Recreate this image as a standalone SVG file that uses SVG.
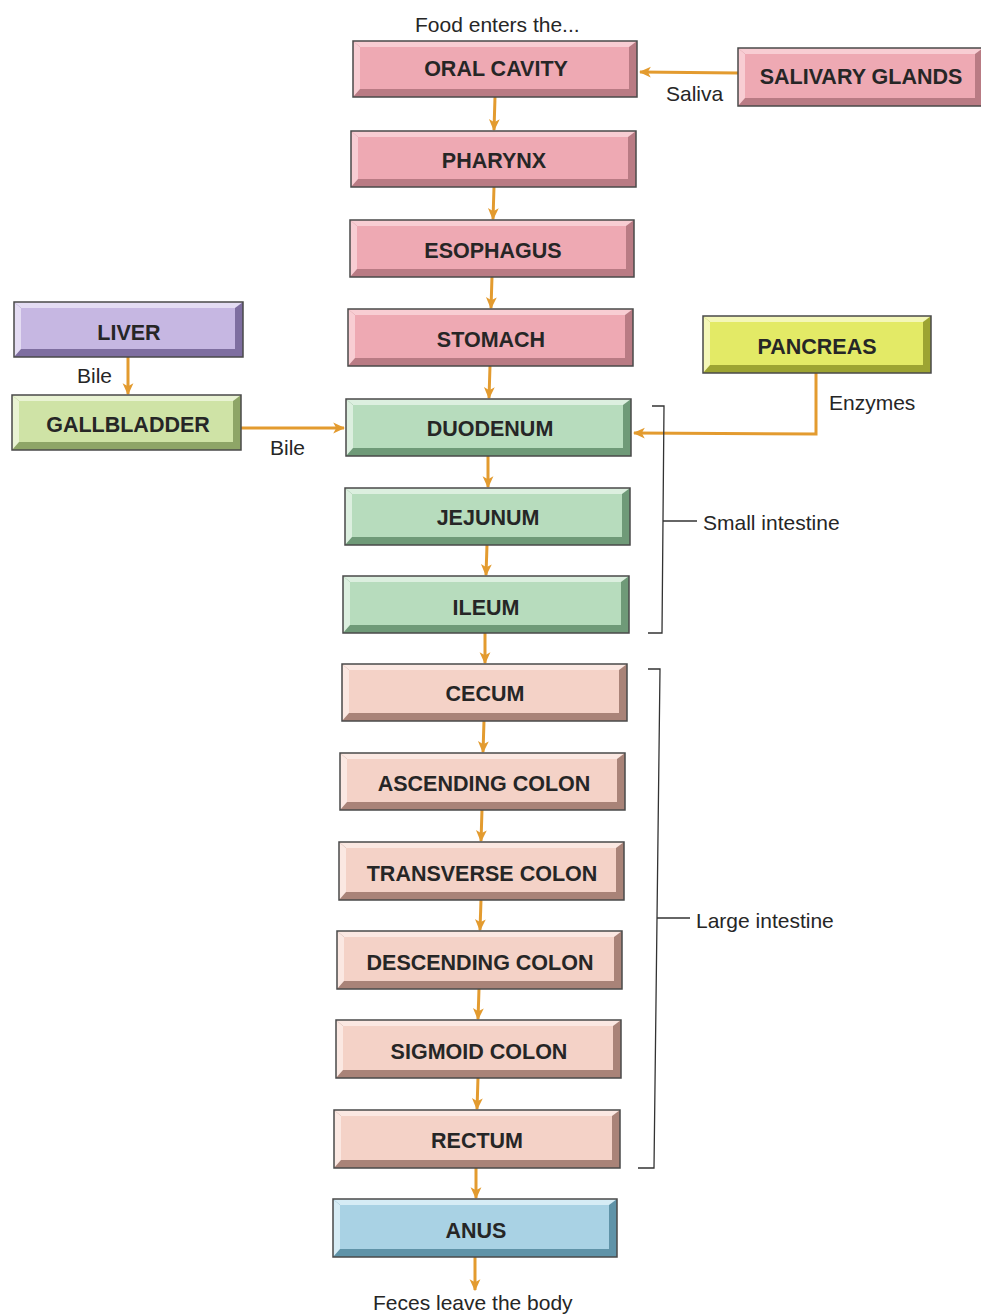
<svg xmlns="http://www.w3.org/2000/svg" width="981" height="1315" viewBox="0 0 981 1315">
<defs>
<marker id="ah" viewBox="0 0 10 10" refX="9" refY="5" markerWidth="12" markerHeight="12" markerUnits="userSpaceOnUse" orient="auto">
<path d="M0,0.5 L10,5 L0,9.5 L2.5,5 Z" fill="#e39b2f"/>
</marker>
</defs>
<style>
.lbl{font-family:"Liberation Sans",Arial,sans-serif;font-weight:bold;font-size:21.5px;fill:#262626;text-anchor:middle}
.txt{font-family:"Liberation Sans",Arial,sans-serif;font-size:21px;fill:#262626}
.ol{fill:none;stroke:#4a4a4a;stroke-width:1.5}
.con{fill:none;stroke:#e39b2f;stroke-width:3}
.arr{marker-end:url(#ah)}
.br{fill:none;stroke:#333;stroke-width:1.3}
.pk .f{fill:#eea9b3}.pk .l{fill:#f8cdd3}.pk .d{fill:#b97b84}
.gr .f{fill:#b7dcbd}.gr .l{fill:#dcefdf}.gr .d{fill:#6f9a78}
.sm .f{fill:#f4d2c7}.sm .l{fill:#fbe8e2}.sm .d{fill:#a98378}
.bl .f{fill:#a9d2e4}.bl .l{fill:#d6ecf5}.bl .d{fill:#5f93a8}
.pu .f{fill:#c6b7e2}.pu .l{fill:#e4dcf3}.pu .d{fill:#7e6ea0}
.yg .f{fill:#cfe3a6}.yg .l{fill:#e9f3d3}.yg .d{fill:#8ea567}
.ye .f{fill:#e3ea66}.ye .l{fill:#f4f7b8}.ye .d{fill:#9da432}
</style>
<rect width="981" height="1315" fill="#fff"/>

<g id="connectors">
<line class="con arr" x1="738" y1="73" x2="640" y2="72"/>
<line class="con arr" x1="495" y1="97" x2="494" y2="130"/>
<line class="con arr" x1="494" y1="187" x2="493" y2="219"/>
<line class="con arr" x1="492" y1="277" x2="491" y2="308"/>
<line class="con arr" x1="490" y1="366" x2="489" y2="398"/>
<line class="con arr" x1="488" y1="456" x2="488" y2="487"/>
<line class="con arr" x1="487" y1="545" x2="486" y2="575"/>
<line class="con arr" x1="485" y1="633" x2="485" y2="663"/>
<line class="con arr" x1="484" y1="721" x2="483" y2="752"/>
<line class="con arr" x1="482" y1="810" x2="481" y2="841"/>
<line class="con arr" x1="481" y1="900" x2="480" y2="930"/>
<line class="con arr" x1="479" y1="989" x2="478" y2="1019"/>
<line class="con arr" x1="478" y1="1078" x2="477" y2="1109"/>
<line class="con arr" x1="476" y1="1168" x2="476" y2="1198"/>
<line class="con arr" x1="475" y1="1257" x2="475" y2="1290"/>
<line class="con arr" x1="128" y1="357" x2="128" y2="394"/>
<line class="con arr" x1="241" y1="428" x2="344" y2="428"/>
<polyline class="con arr" points="816,373 816,434 634,433"/>
</g>

<g id="brackets">
<polyline class="br" points="652,406 664,406 662,633 648,633"/>
<line class="br" x1="663" y1="521" x2="697" y2="521"/>
<polyline class="br" points="648,669 660,669 654,1168 638,1168"/>
<line class="br" x1="657" y1="918" x2="690" y2="918"/>
</g>

<g id="labels">
<text class="txt" x="415" y="32">Food enters the...</text>
<text class="txt" x="666" y="101">Saliva</text>
<text class="txt" x="77" y="383">Bile</text>
<text class="txt" x="270" y="455">Bile</text>
<text class="txt" x="829" y="410">Enzymes</text>
<text class="txt" x="703" y="530">Small intestine</text>
<text class="txt" x="696" y="928">Large intestine</text>
<text class="txt" x="373" y="1310">Feces leave the body</text>
</g>

<g id="oral-cavity" class="pk">
<rect class="d" x="353" y="41" width="284" height="56"/>
<polygon class="l" points="353,41 637,41 629,47 360,47"/>
<polygon class="l" points="353,41 360,47 360,89 353,97"/>
<rect class="f" x="360" y="47" width="269" height="42"/>
<rect class="ol" x="353" y="41" width="284" height="56"/>
<text class="lbl" x="496" y="76">ORAL CAVITY</text>
</g>

<g id="salivary-glands" class="pk">
<rect class="d" x="738" y="48" width="245" height="58"/>
<polygon class="l" points="738,48 983,48 975,54 745,54"/>
<polygon class="l" points="738,48 745,54 745,98 738,106"/>
<rect class="f" x="745" y="54" width="230" height="44"/>
<rect class="ol" x="738" y="48" width="245" height="58"/>
<text class="lbl" x="861" y="84">SALIVARY GLANDS</text>
</g>

<g id="pharynx" class="pk">
<rect class="d" x="351" y="131" width="285" height="56"/>
<polygon class="l" points="351,131 636,131 628,137 358,137"/>
<polygon class="l" points="351,131 358,137 358,179 351,187"/>
<rect class="f" x="358" y="137" width="270" height="42"/>
<rect class="ol" x="351" y="131" width="285" height="56"/>
<text class="lbl" x="494" y="168">PHARYNX</text>
</g>

<g id="esophagus" class="pk">
<rect class="d" x="350" y="220" width="284" height="57"/>
<polygon class="l" points="350,220 634,220 626,226 357,226"/>
<polygon class="l" points="350,220 357,226 357,269 350,277"/>
<rect class="f" x="357" y="226" width="269" height="43"/>
<rect class="ol" x="350" y="220" width="284" height="57"/>
<text class="lbl" x="493" y="258">ESOPHAGUS</text>
</g>

<g id="stomach" class="pk">
<rect class="d" x="348" y="309" width="285" height="57"/>
<polygon class="l" points="348,309 633,309 625,315 355,315"/>
<polygon class="l" points="348,309 355,315 355,358 348,366"/>
<rect class="f" x="355" y="315" width="270" height="43"/>
<rect class="ol" x="348" y="309" width="285" height="57"/>
<text class="lbl" x="491" y="347">STOMACH</text>
</g>

<g id="liver" class="pu">
<rect class="d" x="14" y="302" width="229" height="55"/>
<polygon class="l" points="14,302 243,302 235,308 21,308"/>
<polygon class="l" points="14,302 21,308 21,349 14,357"/>
<rect class="f" x="21" y="308" width="214" height="41"/>
<rect class="ol" x="14" y="302" width="229" height="55"/>
<text class="lbl" x="129" y="340">LIVER</text>
</g>

<g id="pancreas" class="ye">
<rect class="d" x="703" y="316" width="228" height="57"/>
<polygon class="l" points="703,316 931,316 923,322 710,322"/>
<polygon class="l" points="703,316 710,322 710,365 703,373"/>
<rect class="f" x="710" y="322" width="213" height="43"/>
<rect class="ol" x="703" y="316" width="228" height="57"/>
<text class="lbl" x="817" y="354">PANCREAS</text>
</g>

<g id="gallbladder" class="yg">
<rect class="d" x="12" y="395" width="229" height="55"/>
<polygon class="l" points="12,395 241,395 233,401 19,401"/>
<polygon class="l" points="12,395 19,401 19,442 12,450"/>
<rect class="f" x="19" y="401" width="214" height="41"/>
<rect class="ol" x="12" y="395" width="229" height="55"/>
<text class="lbl" x="128" y="432">GALLBLADDER</text>
</g>

<g id="duodenum" class="gr">
<rect class="d" x="346" y="399" width="285" height="57"/>
<polygon class="l" points="346,399 631,399 623,405 353,405"/>
<polygon class="l" points="346,399 353,405 353,448 346,456"/>
<rect class="f" x="353" y="405" width="270" height="43"/>
<rect class="ol" x="346" y="399" width="285" height="57"/>
<text class="lbl" x="490" y="436">DUODENUM</text>
</g>

<g id="jejunum" class="gr">
<rect class="d" x="345" y="488" width="285" height="57"/>
<polygon class="l" points="345,488 630,488 622,494 352,494"/>
<polygon class="l" points="345,488 352,494 352,537 345,545"/>
<rect class="f" x="352" y="494" width="270" height="43"/>
<rect class="ol" x="345" y="488" width="285" height="57"/>
<text class="lbl" x="488" y="525">JEJUNUM</text>
</g>

<g id="ileum" class="gr">
<rect class="d" x="343" y="576" width="286" height="57"/>
<polygon class="l" points="343,576 629,576 621,582 350,582"/>
<polygon class="l" points="343,576 350,582 350,625 343,633"/>
<rect class="f" x="350" y="582" width="271" height="43"/>
<rect class="ol" x="343" y="576" width="286" height="57"/>
<text class="lbl" x="486" y="615">ILEUM</text>
</g>

<g id="cecum" class="sm">
<rect class="d" x="342" y="664" width="285" height="57"/>
<polygon class="l" points="342,664 627,664 619,670 349,670"/>
<polygon class="l" points="342,664 349,670 349,713 342,721"/>
<rect class="f" x="349" y="670" width="270" height="43"/>
<rect class="ol" x="342" y="664" width="285" height="57"/>
<text class="lbl" x="485" y="701">CECUM</text>
</g>

<g id="ascending-colon" class="sm">
<rect class="d" x="340" y="753" width="285" height="57"/>
<polygon class="l" points="340,753 625,753 617,759 347,759"/>
<polygon class="l" points="340,753 347,759 347,802 340,810"/>
<rect class="f" x="347" y="759" width="270" height="43"/>
<rect class="ol" x="340" y="753" width="285" height="57"/>
<text class="lbl" x="484" y="791">ASCENDING COLON</text>
</g>

<g id="transverse-colon" class="sm">
<rect class="d" x="339" y="842" width="285" height="58"/>
<polygon class="l" points="339,842 624,842 616,848 346,848"/>
<polygon class="l" points="339,842 346,848 346,892 339,900"/>
<rect class="f" x="346" y="848" width="270" height="44"/>
<rect class="ol" x="339" y="842" width="285" height="58"/>
<text class="lbl" x="482" y="881">TRANSVERSE COLON</text>
</g>

<g id="descending-colon" class="sm">
<rect class="d" x="337" y="931" width="285" height="58"/>
<polygon class="l" points="337,931 622,931 614,937 344,937"/>
<polygon class="l" points="337,931 344,937 344,981 337,989"/>
<rect class="f" x="344" y="937" width="270" height="44"/>
<rect class="ol" x="337" y="931" width="285" height="58"/>
<text class="lbl" x="480" y="970">DESCENDING COLON</text>
</g>

<g id="sigmoid-colon" class="sm">
<rect class="d" x="336" y="1020" width="285" height="58"/>
<polygon class="l" points="336,1020 621,1020 613,1026 343,1026"/>
<polygon class="l" points="336,1020 343,1026 343,1070 336,1078"/>
<rect class="f" x="343" y="1026" width="270" height="44"/>
<rect class="ol" x="336" y="1020" width="285" height="58"/>
<text class="lbl" x="479" y="1059">SIGMOID COLON</text>
</g>

<g id="rectum" class="sm">
<rect class="d" x="334" y="1110" width="286" height="58"/>
<polygon class="l" points="334,1110 620,1110 612,1116 341,1116"/>
<polygon class="l" points="334,1110 341,1116 341,1160 334,1168"/>
<rect class="f" x="341" y="1116" width="271" height="44"/>
<rect class="ol" x="334" y="1110" width="286" height="58"/>
<text class="lbl" x="477" y="1148">RECTUM</text>
</g>

<g id="anus" class="bl">
<rect class="d" x="333" y="1199" width="284" height="58"/>
<polygon class="l" points="333,1199 617,1199 609,1205 340,1205"/>
<polygon class="l" points="333,1199 340,1205 340,1249 333,1257"/>
<rect class="f" x="340" y="1205" width="269" height="44"/>
<rect class="ol" x="333" y="1199" width="284" height="58"/>
<text class="lbl" x="476" y="1238">ANUS</text>
</g>
</svg>
